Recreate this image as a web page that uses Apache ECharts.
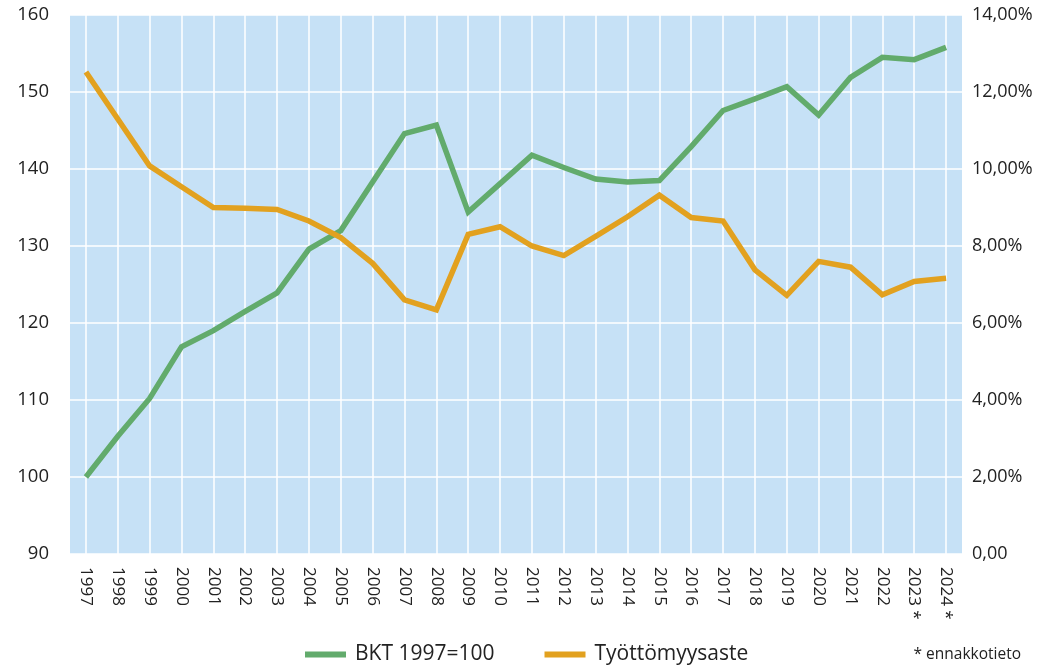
<!DOCTYPE html>
<html>
<head>
<meta charset="utf-8">
<script src="https://cdn.jsdelivr.net/npm/echarts@6/dist/echarts.min.js"></script>
<style>html,body{margin:0;padding:0;background:#fff}#c{width:1046px;height:670px}</style>
</head>
<body>
<div id="c"></div>
<script>
const years = ['1997','1998','1999','2000','2001','2002','2003','2004','2005','2006','2007','2008','2009','2010','2011','2012','2013','2014','2015','2016','2017','2018','2019','2020','2021','2022','2023 *','2024 *'];
const bkt = [100, 105.3, 110.2, 116.9, 119.0, 121.5, 123.9, 129.6, 132.0, 138.3, 144.6, 145.7, 134.4, 138.1, 141.8, 140.2, 138.7, 138.3, 138.5, 142.9, 147.6, 149.1, 150.7, 147.0, 151.9, 154.5, 154.2, 155.8];
const unemployment = [12.52, 11.3, 10.08, 9.54, 9.0, 8.98, 8.95, 8.65, 8.22, 7.55, 6.6, 6.34, 8.3, 8.5, 8.0, 7.75, 8.25, 8.76, 9.32, 8.74, 8.65, 7.38, 6.72, 7.6, 7.45, 6.73, 7.08, 7.16];
const leftTicks = [90, 160, 10];
const rightTicks = [0, 14, 2];
const seriesNames = ['BKT 1997=100', 'Työttömyysaste'];
const footnote = '* ennakkotieto';

const FONT = 'Open Sans';
const chart = echarts.init(document.getElementById('c'), null, {renderer: 'canvas'});
chart.setOption({
  animation: false,
  textStyle: {fontFamily: FONT},
  grid: {left: 70, right: 84, top: 15, bottom: 116, show: true, backgroundColor: '#c6e1f6', borderWidth: 0, containLabel: false},
  legend: {
    left: 300, bottom: 0, itemGap: 50, itemWidth: 41, itemHeight: 6,
    icon: 'rect',
    textStyle: {fontFamily: FONT, fontSize: 21, color: '#222', padding: [0, 0, 0, 4]},
    data: seriesNames
  },
  title: {
    text: footnote, right: 20, bottom: 2,
    textStyle: {fontFamily: FONT, fontSize: 15.5, fontWeight: 'normal', color: '#222'}
  },
  xAxis: {
    type: 'category', data: years, boundaryGap: true,
    axisLine: {show: false}, axisTick: {show: false},
    axisLabel: {rotate: -90, margin: 13, fontSize: 17, color: '#222', fontFamily: FONT},
    splitLine: {show: true, alignWithLabel: true, lineStyle: {color: '#ffffff', width: 1.5}}
  },
  yAxis: [
    {
      type: 'value', min: leftTicks[0], max: leftTicks[1], interval: leftTicks[2],
      axisLine: {show: false}, axisTick: {show: false},
      axisLabel: {margin: 21, fontSize: 18.5, color: '#222', fontFamily: FONT},
      splitLine: {show: true, lineStyle: {color: '#ffffff', width: 1.5}}
    },
    {
      type: 'value', min: rightTicks[0], max: rightTicks[1], interval: rightTicks[2],
      axisLine: {show: false}, axisTick: {show: false},
      axisLabel: {margin: 10, fontSize: 18, color: '#222', fontFamily: FONT,
        formatter: v => v === 0 ? '0,00' : v.toFixed(2).replace('.', ',') + '%'},
      splitLine: {show: false}
    }
  ],
  series: [
    {name: seriesNames[0], type: 'line', yAxisIndex: 0, data: bkt, symbol: 'none',
      lineStyle: {width: 5.5, color: '#62ab6c', join: 'miter'}, itemStyle: {color: '#62ab6c'}},
    {name: seriesNames[1], type: 'line', yAxisIndex: 1, data: unemployment, symbol: 'none',
      lineStyle: {width: 5.5, color: '#e2a11f', join: 'miter'}, itemStyle: {color: '#e2a11f'}}
  ]
});
</script>
</body>
</html>
